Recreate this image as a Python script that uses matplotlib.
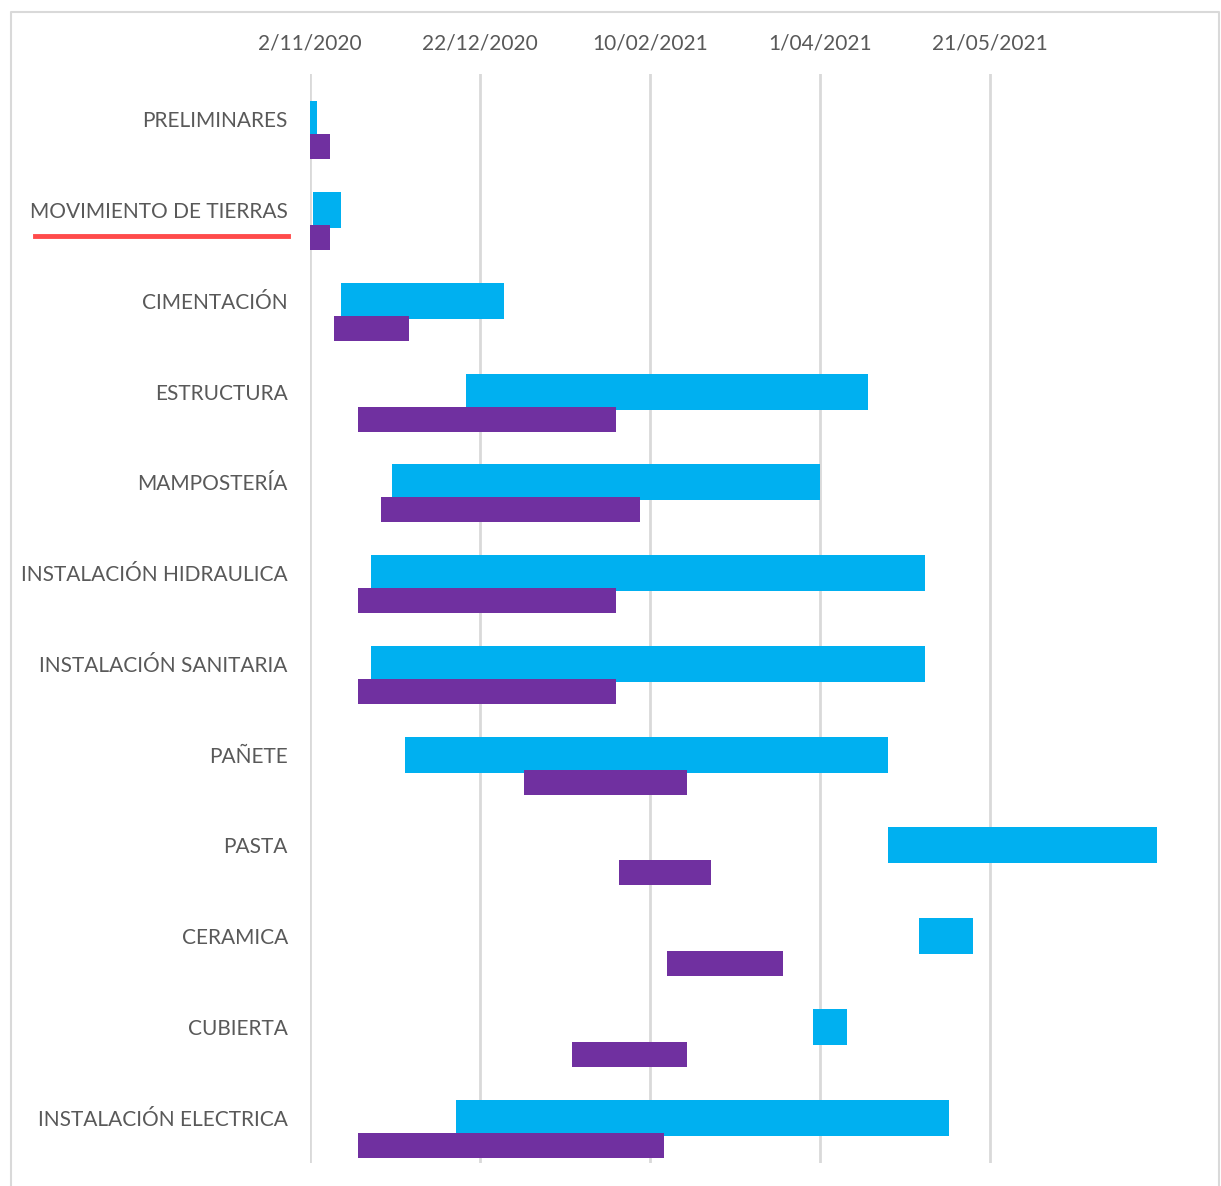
import numpy as np
import pandas as pd
import matplotlib
matplotlib.use("Agg")
import matplotlib.pyplot as plt
import matplotlib.dates as mdates
from matplotlib.lines import Line2D

tasks = ["PRELIMINARES", "MOVIMIENTO DE TIERRAS", "CIMENTACIÓN", "ESTRUCTURA",
         "MAMPOSTERÍA", "INSTALACIÓN HIDRAULICA", "INSTALACIÓN SANITARIA",
         "PAÑETE", "PASTA", "CERAMICA", "CUBIERTA", "INSTALACIÓN ELECTRICA"]

# cyan series
real_start = ["2020-11-02", "2020-11-03", "2020-11-11", "2020-12-18", "2020-11-26",
              "2020-11-20", "2020-11-20", "2020-11-30", "2021-04-21", "2021-04-30",
              "2021-03-30", "2020-12-15"]
real_days = [2, 8, 48, 118, 126, 163, 163, 142, 79, 16, 10, 145]

# purple series
plan_start = ["2020-11-02", "2020-11-02", "2020-11-09", "2020-11-16", "2020-11-23",
              "2020-11-16", "2020-11-16", "2021-01-04", "2021-02-01", "2021-02-15",
              "2021-01-18", "2020-11-16"]
plan_days = [6, 6, 22, 76, 76, 76, 76, 48, 27, 34, 34, 90]

tick_dates = ["2020-11-02", "2020-12-22", "2021-02-10", "2021-04-01", "2021-05-21"]
x_min, x_max = "2020-11-02", "2021-07-10"

plt.rcParams['font.family'] = ['Lato', 'DejaVu Sans']
txt = "#595959"

fig = plt.figure(figsize=(12.21, 11.86), dpi=100)
ax = fig.add_axes([310 / 1221, 1 - 1163 / 1186, 850 / 1221, (1163 - 74) / 1186])

y = np.arange(len(tasks))
rs = mdates.date2num(pd.to_datetime(real_start))
ps = mdates.date2num(pd.to_datetime(plan_start))
ax.barh(y, real_days, left=rs, height=0.397, color="#00B0F0", zorder=2)
ax.barh(y + 0.304, plan_days, left=ps, height=0.275, color="#7030A0", zorder=3)

ax.set_ylim(len(tasks) - 0.5, -0.5)
ax.set_yticks(y)
ax.set_yticklabels(tasks, fontsize=15, color=txt)
ax.set_xlim(mdates.date2num(pd.Timestamp(x_min)), mdates.date2num(pd.Timestamp(x_max)))
tk = pd.to_datetime(tick_dates)
ax.set_xticks(mdates.date2num(tk))
ax.set_xticklabels([f"{d.day}/{d.month:02d}/{d.year}" for d in tk], fontsize=15, color=txt)
ax.xaxis.tick_top()
ax.tick_params(axis="x", length=0, pad=15)
ax.tick_params(axis="y", length=0, pad=16)
ax.grid(axis="x", color="#D9D9D9", linewidth=2, zorder=0)
for s in ax.spines.values():
    s.set_visible(False)

# red underline annotation
fig.add_artist(Line2D([35 / 1221, 288 / 1221], [1 - 236 / 1186] * 2,
                      color="#FF4B4B", linewidth=3.5))
# outer frame
fig.add_artist(Line2D([11 / 1221, 11 / 1221, 1219 / 1221, 1219 / 1221],
                      [0, 1 - 12 / 1186, 1 - 12 / 1186, 0],
                      color="#D9D9D9", linewidth=1.5))

fig.savefig("out.png", dpi=100)
